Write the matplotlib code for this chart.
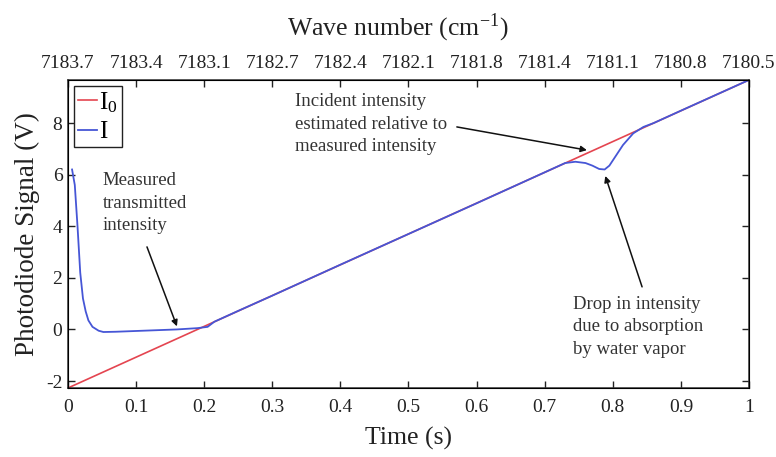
import matplotlib
matplotlib.use("Agg")
import matplotlib.pyplot as plt

# Time axis (s) and the two photodiode traces (V)
time_i0 = [0.0, 1.0]
signal_i0 = [-2.27, 9.67]

time_i = [0.006, 0.010, 0.014, 0.018, 0.022, 0.026, 0.030, 0.036, 0.045,
          0.052, 0.070, 0.090, 0.110, 0.130, 0.160, 0.190, 0.205, 0.215,
          0.250, 0.300, 0.400, 0.500, 0.600, 0.700, 0.730, 0.745, 0.760,
          0.770, 0.780, 0.788, 0.795, 0.805, 0.815, 0.830, 0.845, 0.860,
          0.900, 1.000]
signal_i = [6.2, 5.6, 4.0, 2.2, 1.2, 0.7, 0.35, 0.1, -0.05,
            -0.1, -0.09, -0.07, -0.05, -0.03, 0.0, 0.05, 0.10, 0.30,
            0.72, 1.31, 2.51, 3.70, 4.89, 6.09, 6.45, 6.50, 6.45,
            6.35, 6.22, 6.20, 6.35, 6.75, 7.15, 7.60, 7.85, 8.00,
            8.48, 9.67]

time_ticks = [0.0, 0.1, 0.2, 0.3, 0.4, 0.5, 0.6, 0.7, 0.8, 0.9, 1.0]
time_tick_labels = ['0', '0.1', '0.2', '0.3', '0.4', '0.5', '0.6', '0.7',
                    '0.8', '0.9', '1']
wavenumber_labels = ['7183.7', '7183.4', '7183.1', '7182.7', '7182.4',
                     '7182.1', '7181.8', '7181.4', '7181.1', '7180.8',
                     '7180.5']
signal_ticks = [-2, 0, 2, 4, 6, 8]

plt.rcParams['font.family'] = ['Liberation Serif', 'DejaVu Serif']
plt.rcParams['mathtext.fontset'] = 'stix'
plt.rcParams['axes.unicode_minus'] = False

fig = plt.figure(figsize=(7.76, 4.57), dpi=100)
ax = fig.add_axes([0.0876, 0.151, 0.8776, 0.674])

ax.plot(time_i0, signal_i0, color='#e44550', lw=1.2, label=r'$\mathregular{I_0}$')
ax.plot(time_i, signal_i, color='#4656d6', lw=1.3, label='I')

ax.set_xlim(0, 1)
ax.set_ylim(-2.27, 9.67)
ax.set_xticks(time_ticks)
ax.set_xticklabels(time_tick_labels)
ax.set_yticks(signal_ticks)
ax.tick_params(axis='both', direction='in', length=5, width=1,
               labelsize=14, colors='#222222')
ax.tick_params(axis='x', pad=8)
ax.tick_params(axis='y', pad=4, right=True)
for sp in ax.spines.values():
    sp.set_linewidth(1.1)
    sp.set_color('#333333')

ax.set_xlabel('Time (s)', fontsize=18.5, color='#222222', labelpad=8)
ax.set_ylabel('Photodiode Signal (V)', fontsize=19.5, color='#222222', labelpad=4)

# Wavenumber scale along the top edge
top = ax.twiny()
top.set_xlim(ax.get_xlim())
top.set_xticks(time_ticks)
top.set_xticklabels(wavenumber_labels)
top.tick_params(axis='x', direction='in', length=5, width=1, labelsize=14,
                pad=6, colors='#222222')
top.set_xlabel(r'Wave number (cm$^{\mathregular{-1}}$)', fontsize=18.5,
               color='#222222', labelpad=14)
top.xaxis.label.set_x(0.485)

leg = ax.legend(loc='upper left', fontsize=18, handlelength=0.75,
                handletextpad=0.1, borderpad=0.15, labelspacing=0.25,
                borderaxespad=0.25, fancybox=False, framealpha=1)
leg.get_frame().set_edgecolor('#222222')
leg.get_frame().set_linewidth(1.0)

txt = dict(fontsize=13.5, color='#333333', ha='left', va='top', linespacing=1.42)
arrow = dict(arrowstyle='-|>', color='#111111', lw=1.1, mutation_scale=9,
             shrinkA=0, shrinkB=0)

ax.text(0.051, 6.1, 'Measured\ntransmitted\nintensity', **txt)
ax.annotate('', xy=(0.160, 0.12), xytext=(0.116, 3.2), arrowprops=arrow)

ax.text(0.333, 9.15, 'Incident intensity\nestimated relative to\nmeasured intensity', **txt)
ax.annotate('', xy=(0.762, 6.95), xytext=(0.571, 7.85), arrowprops=arrow)

ax.text(0.742, 1.3, 'Drop in intensity\ndue to absorption\nby water vapor', **txt)
ax.annotate('', xy=(0.789, 5.95), xytext=(0.843, 1.65), arrowprops=arrow)

fig.savefig('out.png', dpi=100)
